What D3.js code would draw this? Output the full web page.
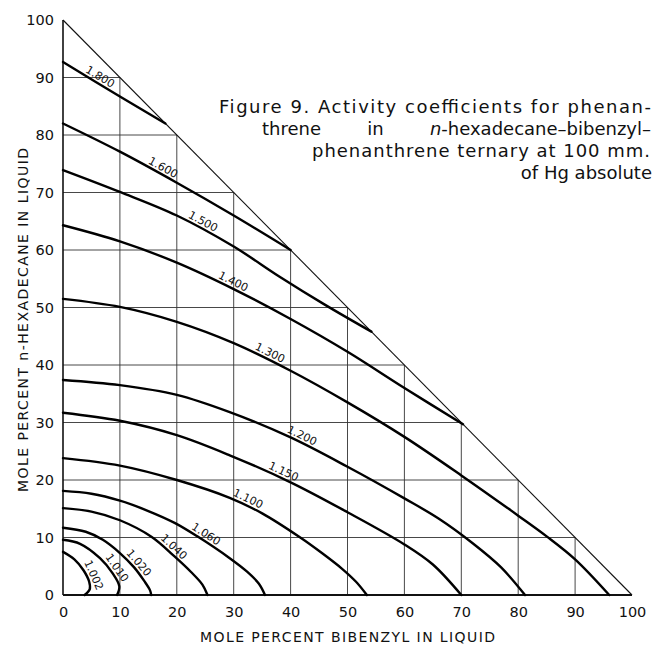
<!DOCTYPE html>
<html>
<head>
<meta charset="utf-8">
<script src="https://cdn.jsdelivr.net/npm/d3@7/dist/d3.min.js"></script>
<style>
  body { margin: 0; background: #fff; }
  svg { display: block; }
</style>
</head>
<body>
<svg id="chart" width="652" height="645"></svg>
<script>
// axis ticks (mole percent)
var xTicks = [0, 10, 20, 30, 40, 50, 60, 70, 80, 90, 100];
var yTicks = [0, 10, 20, 30, 40, 50, 60, 70, 80, 90, 100];
var gridSteps = [10, 20, 30, 40, 50, 60, 70, 80, 90];

// iso-activity curves, [bibenzyl %, n-hexadecane %]
var c1002 = [[0,7.5],[2,6.2],[3.6,4.3],[4.6,2.3],[4.7,1],[3.8,0]];
var c1010 = [[0,9.6],[3,8.9],[6.5,6.4],[8.7,3.8],[9.9,1.5],[9.5,0]];
var c1020 = [[0,11.7],[4,11],[7,9.6],[10,7.3],[12.5,4.8],[14.3,2.4],[15.3,0.8],[15.5,0]];
var c1040 = [[0,15.1],[5,14.5],[10,13],[15.6,10.1],[19.5,6.8],[22.5,4],[24.5,1.8],[25.4,0]];
var c1060 = [[0,18.1],[5,17.6],[10,16.4],[15,14.6],[19.7,12.5],[23.6,10.2],[29.3,6.4],[32.3,4.1],[34.4,2],[35.5,0]];
var c1100 = [[0,23.8],[10,22.5],[20,20],[29.3,16.9],[35,14.2],[41.7,10],[45.5,7.3],[49,4.6],[51.5,2.3],[53.4,0]];
var c1150 = [[0,31.7],[10,30.3],[20,27.8],[29.3,24.3],[40,19.6],[50,14.4],[60,8.8],[65,5.3],[70,0]];
var c1200 = [[0,37.4],[10,36.5],[20,34.8],[29.3,31.8],[40,27.4],[50,22.3],[60,16.8],[66,13.3],[72,9],[77,4.8],[81.2,0]];
var c1300 = [[0,51.5],[10,50.1],[20,47.5],[30,43.8],[40,39],[50,33.5],[60,27.5],[70,20.8],[80,13.8],[85,10.2],[90,6.2],[96,0]];
var c1400 = [[0,64.3],[10,61.5],[20,57.8],[30,53.2],[40,48],[50,42.3],[60,36],[70.3,29.7]];
var c1500 = [[0,73.9],[10,70.1],[20,66],[30,60.6],[38,55.4],[46,50.5],[54.2,45.8]];
var c1600 = [[0,82],[10,77.1],[20,71.7],[30,66],[40,60]];
var c1800 = [[0,92.7],[10,86.7],[18,82]];

var levels = ["1.002", "1.010", "1.020", "1.040", "1.060", "1.100", "1.150", "1.200", "1.300", "1.400", "1.500", "1.600", "1.800"];
var curves = [c1002, c1010, c1020, c1040, c1060, c1100, c1150, c1200, c1300, c1400, c1500, c1600, c1800];
// where each level's label sits, in data units
var labelAt = [[6.2,3.8],[9.5,4.7],[13.5,5.7],[19.3,8.2],[25,10.4],[32,15.7],[38.7,21.4],[42.2,28.2],[36.4,42.1],[29.9,54.4],[24.1,64],[17.6,74.4],[6.5,90.1]];

var titleLines = ["Figure 9. Activity coefficients for phenan-", "phenanthrene ternary at 100 mm.", "of Hg absolute"];
var xTitle = "MOLE PERCENT BIBENZYL IN LIQUID";
var yTitle = "MOLE PERCENT n-HEXADECANE IN LIQUID";

var svg = d3.select("#chart");
var x = d3.scaleLinear().domain([0, 100]).range([63, 632]);
var y = d3.scaleLinear().domain([0, 100]).range([595, 20]);

// staircase grid inside the triangle
var grid = svg.append("g").attr("stroke", "#333").attr("stroke-width", 0.9);
grid.selectAll(null).data(gridSteps).enter().append("line")
    .attr("x1", function (d) { return x(d); })
    .attr("x2", function (d) { return x(d); })
    .attr("y1", y(0))
    .attr("y2", function (d) { return y(100 - d); });
grid.selectAll(null).data(gridSteps).enter().append("line")
    .attr("y1", function (d) { return y(d); })
    .attr("y2", function (d) { return y(d); })
    .attr("x1", x(0))
    .attr("x2", function (d) { return x(100 - d); });

// triangle edges
svg.append("line").attr("x1", x(0)).attr("y1", y(100)).attr("x2", x(100)).attr("y2", y(0))
    .attr("stroke", "#111").attr("stroke-width", 1.1);
svg.append("line").attr("x1", x(0)).attr("y1", y(100)).attr("x2", x(0)).attr("y2", y(0))
    .attr("stroke", "#111").attr("stroke-width", 1.6);
svg.append("line").attr("x1", x(0)).attr("y1", y(0)).attr("x2", x(100)).attr("y2", y(0))
    .attr("stroke", "#111").attr("stroke-width", 2.2);

// contour lines
var line = d3.line()
    .x(function (d) { return x(d[0]); })
    .y(function (d) { return y(d[1]); })
    .curve(d3.curveCatmullRom.alpha(0.5));

var paths = svg.append("g").selectAll("path").data(curves).enter().append("path")
    .attr("d", line)
    .attr("fill", "none")
    .attr("stroke", "#000")
    .attr("stroke-width", 2.4)
    .attr("stroke-linecap", "round");

// contour labels, turned along the curve
var labels = svg.append("g")
    .attr("font-family", "DejaVu Sans")
    .attr("font-size", 11)
    .attr("fill", "#111");

paths.each(function (d, i) {
    var node = this;
    var total = node.getTotalLength();
    var ax = x(labelAt[i][0]), ay = y(labelAt[i][1]);
    var best = 0, bestDist = Infinity;
    for (var l = 0; l <= total; l += 0.5) {
        var p = node.getPointAtLength(l);
        var dd = (p.x - ax) * (p.x - ax) + (p.y - ay) * (p.y - ay);
        if (dd < bestDist) { bestDist = dd; best = l; }
    }
    var p0 = node.getPointAtLength(Math.max(0, best - 4));
    var p1 = node.getPointAtLength(Math.min(total, best + 4));
    var dx = p1.x - p0.x, dy = p1.y - p0.y;
    if (dx < 0) { dx = -dx; dy = -dy; }
    var ang = Math.atan2(dy, dx) * 180 / Math.PI;
    var pc = node.getPointAtLength(best);
    labels.append("text")
        .attr("transform", "translate(" + pc.x + "," + pc.y + ") rotate(" + ang + ")")
        .attr("text-anchor", "middle")
        .attr("y", -3)
        .text(levels[i]);
});

// tick labels
var xAxis = d3.axisBottom(x).tickValues(xTicks).tickSize(0).tickPadding(12);
svg.append("g")
    .attr("transform", "translate(0," + y(0) + ")")
    .call(xAxis)
    .call(function (g) { g.select(".domain").remove(); })
    .attr("font-family", "DejaVu Sans")
    .attr("font-size", 14.5)
    .selectAll("text").attr("fill", "#111");

var yAxis = d3.axisLeft(y).tickValues(yTicks).tickSize(0).tickPadding(9);
svg.append("g")
    .attr("transform", "translate(" + x(0) + ",0)")
    .call(yAxis)
    .call(function (g) { g.select(".domain").remove(); })
    .attr("font-family", "DejaVu Sans")
    .attr("font-size", 14.5)
    .selectAll("text").attr("fill", "#111");

// axis titles
svg.append("text")
    .attr("x", 200).attr("y", 642)
    .attr("textLength", 295).attr("lengthAdjust", "spacing")
    .attr("font-family", "DejaVu Sans").attr("font-size", 14)
    .attr("fill", "#111")
    .text(xTitle);

svg.append("text")
    .attr("transform", "translate(28,492) rotate(-90)")
    .attr("textLength", 344).attr("lengthAdjust", "spacing")
    .attr("font-family", "DejaVu Sans").attr("font-size", 14)
    .attr("fill", "#111")
    .text(yTitle);

// figure caption, right-hand block
var cap = svg.append("g")
    .attr("font-family", "DejaVu Sans")
    .attr("font-size", 18)
    .attr("fill", "#111");

cap.append("text").attr("x", 651).attr("y", 113).attr("text-anchor", "end")
    .attr("textLength", 432).attr("lengthAdjust", "spacing")
    .text(titleLines[0]);

var w1 = cap.append("text").attr("x", 262).attr("y", 135).text("threne");
var w3 = cap.append("text").attr("x", 651).attr("y", 135).attr("text-anchor", "end");
w3.append("tspan").attr("font-style", "italic").text("n");
w3.append("tspan").text("-hexadecane\u2013bibenzyl\u2013");
var endW1 = 262 + w1.node().getComputedTextLength();
var startW3 = 651 - w3.node().getComputedTextLength();
cap.append("text").attr("x", (endW1 + startW3) / 2).attr("y", 135)
    .attr("text-anchor", "middle").text("in");

cap.append("text").attr("x", 650).attr("y", 157).attr("text-anchor", "end")
    .attr("textLength", 338).attr("lengthAdjust", "spacing")
    .text(titleLines[1]);

cap.append("text").attr("x", 652).attr("y", 179).attr("text-anchor", "end")
    .text(titleLines[2]);
</script>
</body>
</html>
